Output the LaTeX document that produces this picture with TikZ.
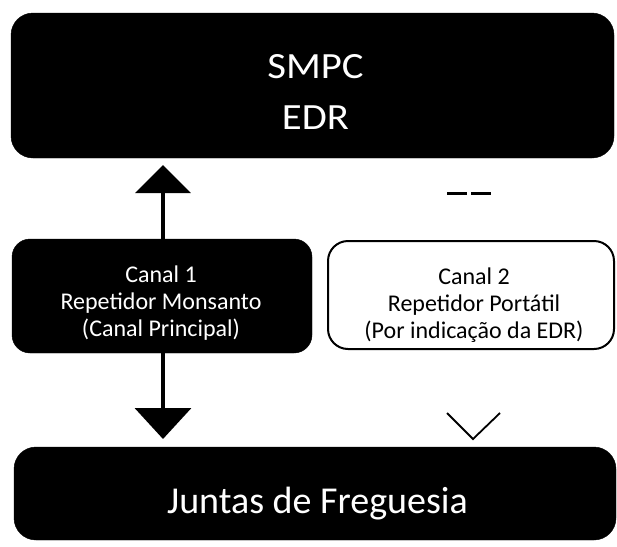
\documentclass[tikz,border=0pt]{standalone}
\usepackage{fontspec}
\setmainfont{Carlito}
\newfontfamily\widefont[FakeStretch=1.1]{Carlito}
\usetikzlibrary{arrows.meta}
\begin{document}
\begin{tikzpicture}[x=1pt,y=-1pt,
  blk/.style={fill=black, draw=black, rounded corners=22pt, inner sep=0pt},
  wht/.style={fill=white, draw=black, line width=2pt, rounded corners=20pt, inner sep=0pt},
  lbl/.style={align=center, inner sep=0pt},
  big/.style={font=\widefont\fontsize{37}{51}\selectfont},
  mid/.style={font=\fontsize{24}{26.8}\selectfont},
  link/.style={line width=4pt}]
\useasboundingbox (0,0) rectangle (617,546);
% boxes
\node[blk, minimum width=603pt, minimum height=145pt] (smpc) at (312.5,85.5) {};
\node[blk, rounded corners=18pt, minimum width=300pt, minimum height=114pt] (c1) at (162,296) {};
\node[wht, minimum width=286pt, minimum height=108pt] (c2) at (471,295) {};
\node[blk, minimum width=602pt, minimum height=93pt] (jf) at (315,493.5) {};
% texts
\node[lbl, big, text=white, anchor=north] (smpcT) at (315.5,54) {SMPC\\EDR};
\node[lbl, mid, text=white, anchor=north] (c1T) at (161,266) {Canal 1\\Repetidor Monsanto\\(Canal Principal)};
\node[lbl, mid, anchor=north] (c2T) at (474,268) {Canal 2\\Repetidor Portátil\\(Por indicação da EDR)};
\node[lbl, font=\fontsize{38}{44}\selectfont, text=white, anchor=base] (jfT) at (317.5,513) {Juntas de Freguesia};
% Canal 1 connectors
\coordinate (upTip) at (163,165);
\draw[link, -{Triangle[width=55pt,length=28pt]}] (c1.north -| upTip) -- (upTip);
\coordinate (dnTip) at (163,439);
\draw[link, -{Triangle[width=56pt,length=31pt]}] (c1.south -| dnTip) -- (dnTip);
% Canal 2 marks
\coordinate (d1) at (447,193);
\coordinate (d2) at (492,193);
\draw[line width=3pt, dash pattern=on 20pt off 4pt] (d1) -- (d2);
\coordinate (v1) at (447,413);
\coordinate (v2) at (473,439);
\coordinate (v3) at (500,413);
\draw[line width=1.8pt] (v1) -- (v2) -- (v3);
\end{tikzpicture}
\end{document}
